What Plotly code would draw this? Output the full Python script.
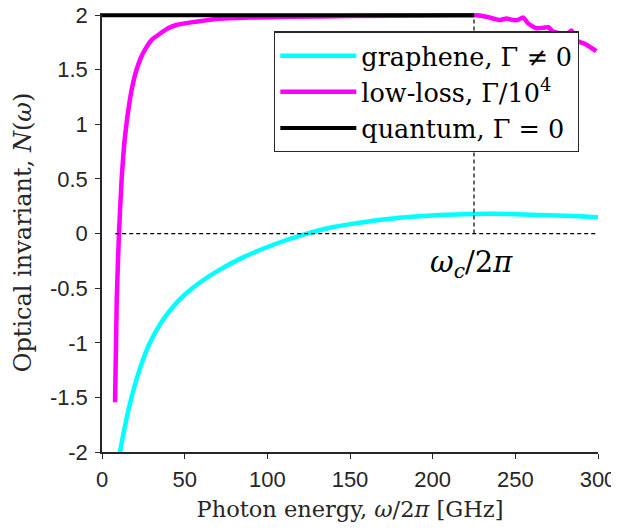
import plotly.graph_objects as go

# ---- data ----
graphene_x = [9.5, 10.9, 14.9, 18.9, 24, 29, 36, 43, 50, 59, 69, 85, 104, 124, 140, 156, 170, 184, 204, 225, 245, 265, 285, 300]
graphene_y = [-2.13, -2.0, -1.69, -1.44, -1.19, -1.00, -0.81, -0.67, -0.56, -0.45, -0.35, -0.22, -0.10, 0.0, 0.06, 0.10, 0.13, 0.15, 0.17, 0.18, 0.18, 0.17, 0.16, 0.15]

lowloss_x = [7.9, 8.9, 10.3, 11.9, 13.9, 16.9, 18.8, 20.9, 23.5, 27, 30.5, 35, 40, 45, 50, 57, 69, 90, 114, 150, 200, 225,
             226.5, 232.5, 236.5, 240.6, 244.7, 248.7, 252, 254.7, 257.7, 262.8, 267, 269.9, 272.8, 278.9, 282, 284, 287, 293, 299]
lowloss_y = [-1.545, -0.62, 0.015, 0.5, 0.89, 1.23, 1.38, 1.5, 1.61, 1.71, 1.78, 1.83, 1.88, 1.91, 1.925, 1.94, 1.965, 1.978, 1.985, 1.992, 1.997, 2.0,
             2.0, 1.985, 1.97, 1.955, 1.97, 1.955, 1.96, 1.98, 1.925, 1.88, 1.885, 1.89, 1.85, 1.83, 1.835, 1.86, 1.77, 1.73, 1.67]

quantum_x = [0, 225]
quantum_y = [2, 2]

omega_c = 225
zero_line_x = [8, 300]
zero_line_y = [0, 0]
vert_line_y = [0, 2]

x_ticks = [0, 50, 100, 150, 200, 250, 300]
x_ticktext = ["0", "50", "100", "150", "200", "250", "300"]
y_ticks = [-2, -1.5, -1, -0.5, 0, 0.5, 1, 1.5, 2]
y_ticktext = ["-2", "-1.5", "-1", "-0.5", "0", "0.5", "1", "1.5", "2"]

legend_names = ["graphene, Γ ≠ 0", "low-loss, Γ/10<sup>4</sup>", "quantum, Γ = 0"]

SERIF = "DejaVu Serif"
SANS = "Liberation Sans"
AX = "#262626"

fig = go.Figure()
fig.add_trace(go.Scatter(x=graphene_x, y=graphene_y, mode="lines", name=legend_names[0], legendgroup="g1",
                         line=dict(color="#00FFFF", width=4.5, shape="spline", smoothing=0.8)))
fig.add_trace(go.Scatter(x=lowloss_x, y=lowloss_y, mode="lines", name=legend_names[1], legendgroup="g2",
                         line=dict(color="#FF00FF", width=4.5, shape="spline", smoothing=0.5)))
fig.add_trace(go.Scatter(x=quantum_x, y=quantum_y, mode="lines", name=legend_names[2], legendgroup="g3",
                         line=dict(color="black", width=4)))
fig.add_trace(go.Scatter(x=zero_line_x, y=zero_line_y, mode="lines", showlegend=False,
                         line=dict(color="black", width=1.2, dash="4px,3px")))
fig.add_trace(go.Scatter(x=[omega_c, omega_c], y=vert_line_y, mode="lines", showlegend=False,
                         line=dict(color="black", width=1.2, dash="4px,3px")))

fig.add_annotation(x=omega_c, y=-0.28, text="<i>ω</i><sub><i>c</i></sub>/2<i>π</i>",
                   showarrow=False, font=dict(family=SERIF, size=29, color="black"),
                   xanchor="center", yanchor="middle", xshift=-3)

# the page body adds an 8 px offset, so margins are reduced accordingly
fig.update_layout(
    width=619, height=521,
    margin=dict(l=94, r=29, t=5, b=77),
    plot_bgcolor="white", paper_bgcolor="white",
    legend=dict(x=0.347, y=0.958, xanchor="left", yanchor="top",
                bgcolor="white", bordercolor=AX, borderwidth=1.2,
                font=dict(family=SERIF, size=25.5, color="black"),
                itemwidth=76, tracegroupgap=1, traceorder="normal"),
)
fig.update_xaxes(range=[0, 300], tickvals=x_ticks, ticktext=x_ticktext, automargin=False,
                 ticks="outside", ticklen=5, tickwidth=1.3, tickcolor=AX, ticklabelstandoff=2,
                 ticklabeloverflow="allow",
                 showline=True, linecolor=AX, linewidth=1.5, showgrid=False, zeroline=False,
                 tickfont=dict(family=SANS, size=22, color=AX),
                 title=dict(text="Photon energy, <i>ω</i>/2<i>π</i> [GHz]",
                            font=dict(family=SERIF, size=22.5, color=AX), standoff=10))
fig.update_yaxes(range=[-2, 2.02], tickvals=y_ticks, ticktext=y_ticktext, automargin=False,
                 ticks="outside", ticklen=5, tickwidth=1.3, tickcolor=AX, ticklabelstandoff=3,
                 ticklabeloverflow="allow",
                 showline=True, linecolor=AX, linewidth=1.5, showgrid=False, zeroline=False,
                 tickfont=dict(family=SANS, size=22, color=AX),
                 title=dict(text="Optical invariant, <i>N</i>(<i>ω</i>)",
                            font=dict(family=SERIF, size=24, color=AX), standoff=12))

fig.write_html("out.html")
